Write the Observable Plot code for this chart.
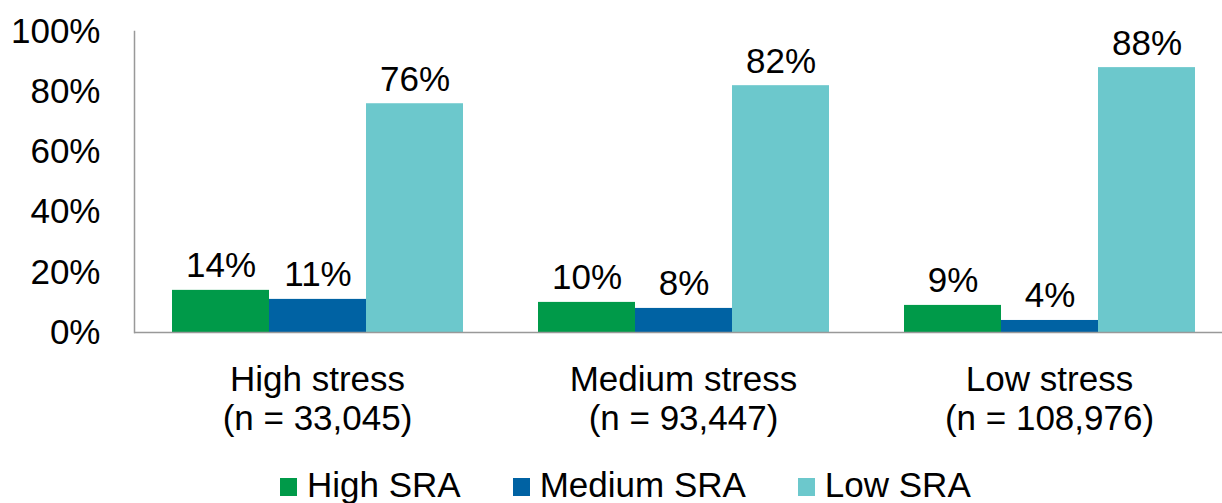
<!DOCTYPE html>
<html>
<head>
<meta charset="utf-8">
<script src="https://cdn.jsdelivr.net/npm/d3@7"></script>
<script src="https://cdn.jsdelivr.net/npm/@observablehq/plot@0.6"></script>
<style>
  html, body { margin: 0; padding: 0; background: #fff; overflow: hidden; width: 1222px; height: 503px; }
  #chart { position: absolute; left: 0; top: 0; }
  #legend { position: absolute; top: 467px; left: 280px; display: flex; align-items: center;
            font-family: "Liberation Sans", Arial, sans-serif; font-size: 35px; line-height: 35px; color: #000; }
  .item { display: flex; align-items: center; margin-right: 52px; white-space: nowrap; }
  .item:last-child { margin-right: 0; }
  .sw { width: 17px; height: 18px; margin-right: 10px; margin-top: 5px; }
</style>
</head>
<body>
<div id="chart"></div>
<div id="legend"></div>
<script>
// Stress groups and their sample sizes
const groups = ["High stress", "Medium stress", "Low stress"];
const sampleSizes = ["33,045", "93,447", "108,976"];

// SRA series (percent of each stress group)
const series = ["High SRA", "Medium SRA", "Low SRA"];
const colors = ["#009a49", "#0062a3", "#6cc8cc"];
const highSRA = [14, 10, 9];
const mediumSRA = [11, 8, 4];
const lowSRA = [76, 82, 88];

// Y axis ticks (percent)
const yTicks = [0, 20, 40, 60, 80, 100];

const seriesValues = [highSRA, mediumSRA, lowSRA];
const rows = groups.flatMap((g, i) =>
  series.map((s, j) => ({ group: g, series: s, value: seriesValues[j][i] }))
);

const font = "'Liberation Sans', Arial, sans-serif";

const chart = Plot.plot({
  width: 1232,
  height: 440,
  marginTop: 31,
  marginBottom: 108,
  marginLeft: 133,
  marginRight: 0,
  style: { fontFamily: font, fontSize: "35px", color: "#000", background: "#fff", maxWidth: "none" },
  fx: { domain: groups, padding: 0 },
  x: { domain: series, paddingInner: 0, paddingOuter: 0.38, axis: null },
  y: { domain: [0, 100] },
  color: { domain: series, range: colors },
  marks: [
    Plot.barY(rows, { fx: "group", x: "series", y: "value", fill: "series" }),
    Plot.text(rows, {
      fx: "group", x: "series", y: "value",
      text: d => `${d.value}%`,
      lineAnchor: "bottom", dy: -13, fontSize: 35, fill: "#000"
    }),
    Plot.ruleY([0], { stroke: "#999", strokeWidth: 1.5 }),
    Plot.frame({ anchor: "left", facetAnchor: "left", stroke: "#999", strokeWidth: 1.5 }),
    Plot.axisY({
      ticks: yTicks, tickFormat: d => `${d}%`, tickSize: 0, tickPadding: 34,
      label: null, fontSize: 35, fill: "#000"
    }),
    Plot.axisFx({
      anchor: "bottom", tickSize: 0, tickPadding: 31, label: null,
      fontSize: 35, lineHeight: 1.11, fill: "#000",
      tickFormat: g => `${g}\n(n = ${sampleSizes[groups.indexOf(g)]})`
    })
  ]
});
document.getElementById("chart").append(chart);

// Legend below the chart
const legend = document.getElementById("legend");
series.forEach((s, i) => {
  const item = document.createElement("div");
  item.className = "item";
  const sw = document.createElement("span");
  sw.className = "sw";
  sw.style.background = colors[i];
  const label = document.createElement("span");
  label.textContent = s;
  item.append(sw, label);
  legend.append(item);
});
</script>
</body>
</html>
